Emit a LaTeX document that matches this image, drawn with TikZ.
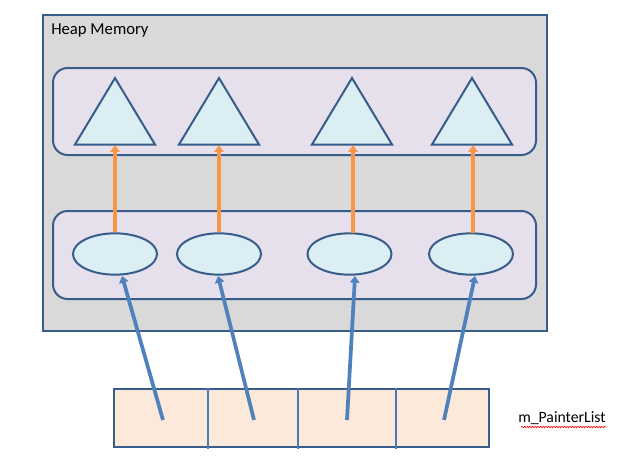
\documentclass[tikz,border=0pt]{standalone}
\usepackage{fontspec}
\setmainfont{Carlito}
\usetikzlibrary{shapes.geometric,arrows.meta,decorations.pathmorphing}
\definecolor{bordc}{HTML}{385D8A}
\definecolor{heapc}{HTML}{D9D9D9}
\definecolor{groupc}{HTML}{E6E0EC}
\definecolor{objc}{HTML}{DAEEF3}
\definecolor{listc}{HTML}{FDE9D9}
\definecolor{orangec}{HTML}{F79646}
\definecolor{bluec}{HTML}{4F81BD}
\tikzset{
  heapbox/.style={draw=bordc, line width=1.5pt, fill=heapc},
  groupbox/.style={draw=bordc, line width=1.5pt, fill=groupc, rounded corners=11pt},
  objtri/.style={draw=bordc, line width=1.5pt, fill=objc, line join=miter},
  objell/.style={ellipse, draw=bordc, line width=1.5pt, fill=objc, minimum width=63pt, minimum height=31pt, inner sep=0pt},
  listbox/.style={draw=bordc, line width=1.5pt, fill=listc},
  divider/.style={draw=bluec!85!bordc, line width=1.8pt},
  orangearrow/.style={draw=orangec, line width=3pt, -{Triangle[length=5pt,width=7pt]}, shorten >=0.5pt},
  bluearrow/.style={draw=bluec, line width=2.8pt, -{Triangle[length=5pt,width=7pt]}},
  lbl/.style={inner sep=0pt}
}
\begin{document}
\begin{tikzpicture}[x=0.75pt,y=-0.75pt]
\useasboundingbox (0,0) rectangle (630,461);
% heap
\path[heapbox] (43,15) rectangle (547,331);
\node[lbl, anchor=west, font=\fontsize{12.5pt}{14pt}\selectfont] (heaplbl) at (51,30) {Heap Memory};
% groups
\path[groupbox] (53,68) rectangle (536,155);
\path[groupbox] (53,211) rectangle (536,299);
% triangles
\foreach \i/\x in {1/115,2/219,3/352,4/472}{
  \path[objtri] (\x,78) -- (\x+40,144.5) -- (\x-40,144.5) -- cycle;
  \coordinate (t\i) at (\x,144.5);
}
% ellipses
\node[objell] (e1) at (115,254) {};
\node[objell] (e2) at (219,254) {};
\node[objell] (e3) at (349.5,254) {};
\node[objell] (e4) at (471,254) {};
% orange arrows
\draw[orangearrow] (e1.north) -- (t1);
\draw[orangearrow] (e2.north) -- (t2);
\draw[orangearrow] (353,233) coordinate (o3) -- (t3 -| o3);
\draw[orangearrow] (473,233) coordinate (o4) -- (t4 -| o4);
% list
\path[listbox] (114,389) rectangle (489,447);
\foreach \x in {208,298,396}{
  \draw[divider] (\x,388) -- (\x,449);
}
% list cell anchors
\coordinate (c1) at (163,420);
\coordinate (c2) at (254,420);
\coordinate (c3) at (347,420);
\coordinate (c4) at (444,420);
\coordinate (b1) at (122,276);
\coordinate (b2) at (218,276);
\coordinate (b3) at (355,276);
\coordinate (b4) at (475,276);
\draw[bluearrow] (c1) -- (b1);
\draw[bluearrow] (c2) -- (b2);
\draw[bluearrow] (c3) -- (b3);
\draw[bluearrow] (c4) -- (b4);
% label
\node[lbl, anchor=west, font=\fontsize{11.8pt}{13pt}\selectfont] (plist) at (518,418) {m\_PainterList};
\draw[red, line width=0.5pt, decorate, decoration={snake, amplitude=0.5pt, segment length=2pt}] (521,427) -- (606,427);
\end{tikzpicture}
\end{document}
